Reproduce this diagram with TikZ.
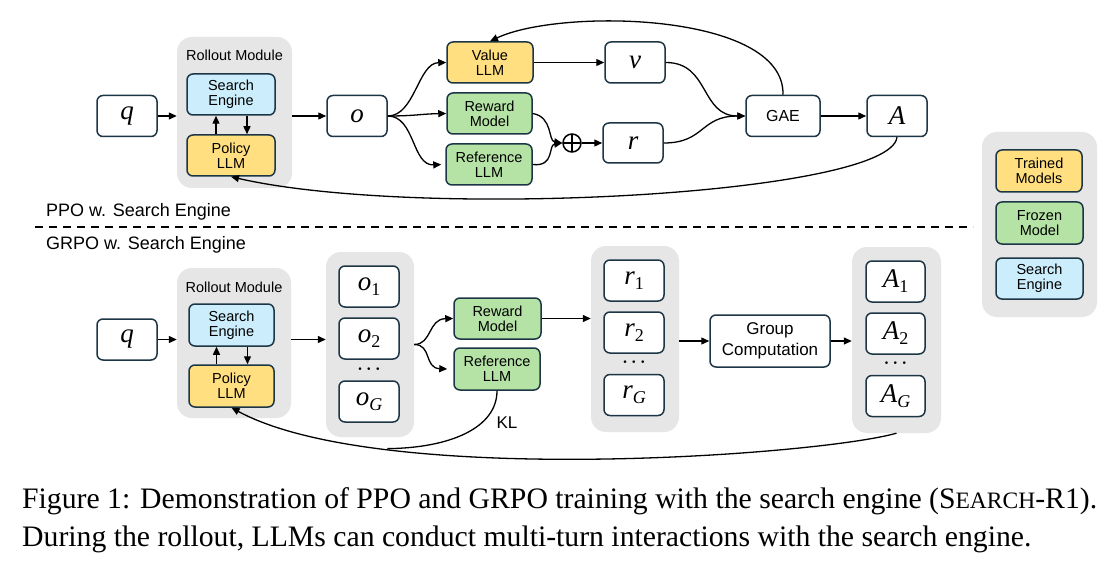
\documentclass[tikz,border=0pt]{standalone}
\usepackage{fontspec}
\usepackage{graphicx}
\usetikzlibrary{arrows.meta}
\newfontfamily\dsans{Liberation Sans}
\newfontfamily\capserif{Liberation Serif}
\newcommand{\mvar}[1]{{\capserif\itshape #1}}
\newcommand{\msub}[1]{\raisebox{-5pt}{\fontsize{18}{18}\selectfont\capserif #1}}
\definecolor{bordc}{HTML}{1C3646}
\definecolor{goldf}{HTML}{FFDF80}
\definecolor{greenf}{HTML}{B5E3A5}
\definecolor{bluef}{HTML}{CCEDFB}
\definecolor{grayf}{HTML}{E6E6E6}
\tikzset{
  bx/.style={draw=bordc, line width=1.5pt, rounded corners=6pt, fill=white,
    minimum width=60pt, minimum height=41pt, inner sep=0pt, align=center,
    font=\dsans\fontsize{14.5}{15}\selectfont},
  mth/.style={bx, font=\capserif\fontsize{27}{28}\selectfont},
  gold/.style={bx, fill=goldf},
  grn/.style={bx, fill=greenf},
  blu/.style={bx, fill=bluef},
  grp/.style={fill=grayf, rounded corners=15pt, inner sep=0pt, draw=none},
  arr/.style={line width=1.3pt, -{Triangle[length=8pt,width=7pt]}},
  lbl/.style={font=\dsans\fontsize{18}{20}\selectfont, inner sep=0pt},
  dotsn/.style={font=\fontsize{17}{17}\selectfont\boldmath, inner sep=0pt}
}
\begin{document}
\begin{tikzpicture}[x=1pt,y=-1pt]
\useasboundingbox (0,0) rectangle (1120,567);
\fill[white] (0,0) rectangle (1120,567);

% ---------------- PPO row ----------------
\node[grp, minimum width=115pt, minimum height=151pt] (ro1) at (234.5,112.5) {};
\node[font=\dsans\fontsize{14.5}{15}\selectfont, inner sep=0pt] (ro1t) at (234.5,55) {Rollout Module};
\node[blu, minimum width=88pt] (se1) at (231,94.5) {Search\\Engine};
\node[gold, minimum width=88pt] (pol1) at (231,155.5) {Policy\\LLM};
\node[mth] (q1) at (127,116) {\mvar{q}};
\node[mth] (o1) at (357,116) {\mvar{o}};
\node[gold, minimum width=86pt] (val) at (490,62.5) {Value\\LLM};
\node[grn, minimum width=85pt] (rew) at (489.5,113.5) {Reward\\Model};
\node[grn, minimum width=86pt] (ref1) at (489,164.5) {Reference\\LLM};
\node[mth] (v) at (635,62.5) {\mvar{v}};
\node[mth, minimum height=40pt] (r) at (633,143) {\mvar{r}};
\node[circle, draw=black, line width=1.5pt, minimum size=18pt, inner sep=0pt,
  path picture={\draw[line width=1.5pt] (path picture bounding box.north) -- (path picture bounding box.south)
  (path picture bounding box.west) -- (path picture bounding box.east);}] (plus) at (572,143) {};
\node[bx, minimum width=74pt, font=\dsans\fontsize{16}{18}\selectfont] (gae) at (783,116) {GAE};
\node[mth] (A) at (897,116) {\mvar{A}};

\draw[arr] (q1.east) -- (q1.east -| ro1.west);
\draw[arr] (ro1.east |- o1.west) -- (o1.west);
\draw[arr] ([xshift=-15pt]pol1.north) -- ([xshift=-15pt]se1.south);
\draw[arr] ([xshift=16pt]se1.south) -- ([xshift=16pt]pol1.north);
\draw[arr] (o1.east) .. controls (415,116) and (418,63) .. (val.west);
\draw[arr] (o1.east) .. controls (415,116) and (420,114) .. (rew.west);
\draw[arr] (o1.east) .. controls (415,116) and (412,166) .. ([xshift=-4pt]ref1.west);
\draw[arr] (val.east) -- (v.west);
\draw[arr] (rew.east) .. controls (553,117) and (548,141) .. (plus.west);
\draw[arr] (ref1.east) .. controls (555,167) and (548,145) .. (plus.west);
\draw[arr] (plus.east) -- (r.west);
\draw[arr] (v.east) .. controls (710,62.5) and (700,116) .. (gae.west);
\draw[arr] (r.east) .. controls (705,143) and (700,116) .. (gae.west);
\draw[arr] (gae.east) -- (A.west);
\draw[arr] (gae.north) .. controls (785,12) and (560,8) .. (val.north);
\draw[arr] (A.south) .. controls (890,195) and (420,220) .. (pol1.south);

% ---------------- legend ----------------
\node[grp, minimum width=115pt, minimum height=185pt] (leg) at (1039.5,224.5) {};
\node[gold, minimum width=86pt, minimum height=42pt] (lt) at (1039,171) {Trained\\Models};
\node[grn, minimum width=87pt, minimum height=42pt] (lf) at (1039.5,223) {Frozen\\Model};
\node[blu, minimum width=87pt] (ls) at (1039.5,278.5) {Search\\Engine};

% ---------------- separator ----------------
\node[lbl, anchor=west] (ppo) at (46,212) {PPO w. Search Engine};
\coordinate (dl) at (35,227);
\coordinate (dr) at (973,227);
\draw[line width=1.3pt, dash pattern=on 8pt off 6pt] (dl) -- (dr);
\node[lbl, anchor=west] (grpo) at (46,245) {GRPO w. Search Engine};

% ---------------- GRPO row ----------------
\node[grp, minimum width=114pt, minimum height=150pt] (ro2) at (234,343) {};
\node[font=\dsans\fontsize{14.5}{15}\selectfont, inner sep=0pt] (ro2t) at (234,287) {Rollout Module};
\node[blu, minimum width=85pt, minimum height=42pt] (se2) at (231.5,325) {Search\\Engine};
\node[gold, minimum width=85pt, minimum height=42pt] (pol2) at (231.5,386) {Policy\\LLM};
\node[mth] (q2) at (127,339.5) {\mvar{q}};

\node[grp, minimum width=88pt, minimum height=185pt] (og) at (370,344.5) {};
\node[mth] (ob1) at (369,286.5) {\mvar{o}\msub{1}};
\node[mth] (ob2) at (369,338.5) {\mvar{o}\msub{2}};
\node[dotsn] (od) at (369,369) {$\cdots$};
\node[mth] (obG) at (369,401.5) {\mvar{o}\msub{\itshape G}};

\node[grn, minimum width=87pt] (rew2) at (497.5,318.5) {Reward\\Model};
\node[grn, minimum width=86pt, minimum height=42pt] (ref2) at (497,369) {Reference\\LLM};

\node[grp, minimum width=88pt, minimum height=186pt] (rg) at (635,339) {};
\node[mth] (rb1) at (634,280.5) {\mvar{r}\msub{1}};
\node[mth] (rb2) at (634,332.5) {\mvar{r}\msub{2}};
\node[dotsn] (rd) at (634,362) {$\cdots$};
\node[mth] (rbG) at (634,395) {\mvar{r}\msub{\itshape G}};

\node[bx, minimum width=120pt, minimum height=52pt, font=\dsans\fontsize{17}{21}\selectfont] (gc) at (770,341) {Group\\Computation};

\node[grp, minimum width=89pt, minimum height=186pt] (ag) at (896.5,340) {};
\node[mth, minimum width=59pt] (ab1) at (895.5,281.5) {\mvar{A}\msub{1}};
\node[mth, minimum width=59pt] (ab2) at (895.5,333.5) {\mvar{A}\msub{2}};
\node[dotsn] (ad) at (895.5,363) {$\cdots$};
\node[mth, minimum width=59pt] (abG) at (895.5,396) {\mvar{A}\msub{\itshape G}};

\draw[arr] (q2.east) -- (q2.east -| ro2.west);
\draw[arr] (ro2.east |- q2.east) -- (og.west |- q2.east);
\draw[arr] ([xshift=-15pt]pol2.north) -- ([xshift=-15pt]se2.south);
\draw[arr] ([xshift=16pt]se2.south) -- ([xshift=16pt]pol2.north);
\draw[arr] (og.east) .. controls (432,344.5) and (428,319) .. (rew2.west);
\draw[arr] (og.east) .. controls (432,344.5) and (424,368) .. ([xshift=-6pt]ref2.west);
\draw[arr] (rew2.east) -- (rew2.east -| rg.west);
\draw[arr] (rg.east |- gc.west) -- (gc.west);
\draw[arr] (gc.east) -- (gc.east -| ag.west);
\draw[arr] (ag.south) .. controls (820,455) and (380,488) .. coordinate[pos=0.75] (klm) (pol2.south);
\draw[line width=1.3pt] (ref2.south) .. controls (497,428) and (450,448) .. (klm);
\node[font=\dsans\fontsize{17}{18}\selectfont, inner sep=0pt] (kl) at (507,423) {KL};

% ---------------- caption ----------------
\node[anchor=base west, inner sep=0pt] (cap) at (22,508) {\resizebox{1075pt}{!}{\capserif\fontsize{24}{31}\selectfont\renewcommand{\arraystretch}{1}\begin{tabular}[t]{@{}l@{}}Figure 1: Demonstration of PPO and GRPO training with the search engine (S{\fontsize{19}{19}\selectfont EARCH}-R1).\\During the rollout, LLMs can conduct multi-turn interactions with the search engine.\end{tabular}}};
\end{tikzpicture}
\end{document}
